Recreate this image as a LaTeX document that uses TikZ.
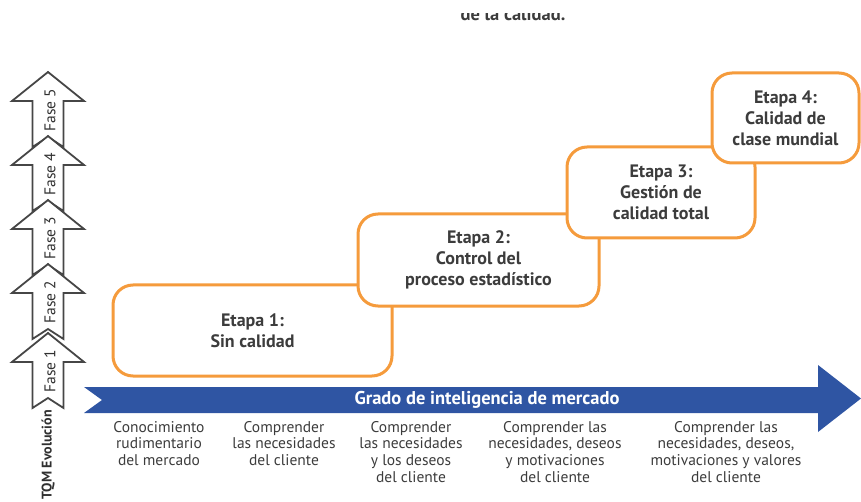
\documentclass[tikz,border=0pt]{standalone}
\usepackage{fontspec}
\setmainfont{PT Sans}
\definecolor{orangeb}{RGB}{245,155,60}
\definecolor{blueb}{RGB}{47,85,163}
\definecolor{txt}{RGB}{60,60,60}
\definecolor{arrgray}{RGB}{70,70,70}
\tikzset{
  etapa/.style={draw=orangeb, line width=3pt, rounded corners=20pt, fill=white,
    text=txt, font=\bfseries\fontsize{18}{21}\selectfont, align=center, inner sep=0pt},
  btxt/.style={text=txt, font=\fontsize{15.5}{16.7}\selectfont, align=center, anchor=north, inner sep=0pt},
  fasearr/.style={draw=arrgray, line width=1.8pt, fill=white, line join=miter},
  fasetxt/.style={text=txt!80!black, font=\fontsize{15.5}{16}\selectfont, rotate=90, inner sep=0pt},
  bigarrow/.style={fill=blueb},
}
\begin{document}
\begin{tikzpicture}[x=1pt,y=-1pt]
\useasboundingbox (0,0) rectangle (861,502);
% cut-off title text
\begin{scope}
  \clip (0,14) rectangle (861,40);
  \node[text=txt, font=\bfseries\fontsize{18.5}{19}\selectfont, anchor=base, inner sep=0pt] (title) at (513,21) {de la calidad.};
\end{scope}
% phase arrows (top to bottom so lower ones overlap)
\foreach \t/\n in {72/5,136/4,200/3,264/2,333/1}{
  \draw[fasearr] (48,\t) -- (84,\t+29) -- (63.5,\t+29) -- (63.5,\t+75) -- (48,\t+65)
     -- (32.5,\t+75) -- (32.5,\t+29) -- (12,\t+29) -- cycle;
  \node[fasetxt] (fase\n) at (50,\t+38) {Fase \n};
}
\node[fasetxt, font=\bfseries\fontsize{14}{15}\selectfont] (tqm) at (48,455) {TQM Evolución};
% stage boxes
\node[etapa, minimum width=279pt, minimum height=91pt] (e1) at (252.5,330.5) {Etapa 1:\\Sin calidad};
\node[etapa, minimum width=241pt, minimum height=92pt] (e2) at (478.5,260) {Etapa 2:\\Control del\\proceso estadístico};
\node[etapa, minimum width=188pt, minimum height=91pt] (e3) at (661,192.5) {Etapa 3:\\Gestión de\\calidad total};
\node[etapa, minimum width=147pt, minimum height=90pt] (e4) at (785.5,118) {Etapa 4:\\Calidad de\\clase mundial};
% big arrow
\fill[bigarrow] (84,387) -- (818,387) -- (818,365) -- (861,398.5) -- (818,432) -- (818,413)
   -- (84,413) -- (102,400) -- cycle;
\node[text=white, font=\bfseries\fontsize{18.5}{19}\selectfont, inner sep=0pt] (grado) at (487,400) {Grado de inteligencia de mercado};
% bottom texts
\node[btxt] (b1) at (159,421) {Conocimiento\\rudimentario\\del mercado};
\node[btxt] (b2) at (284,421) {Comprender\\las necesidades\\del cliente};
\node[btxt] (b3) at (411,421) {Comprender\\las necesidades\\y los deseos\\del cliente};
\node[btxt] (b4) at (555,421) {Comprender las\\necesidades, deseos\\y motivaciones\\del cliente};
\node[btxt] (b5) at (726,421) {Comprender las\\necesidades, deseos,\\motivaciones y valores\\del cliente};
\end{tikzpicture}
\end{document}
